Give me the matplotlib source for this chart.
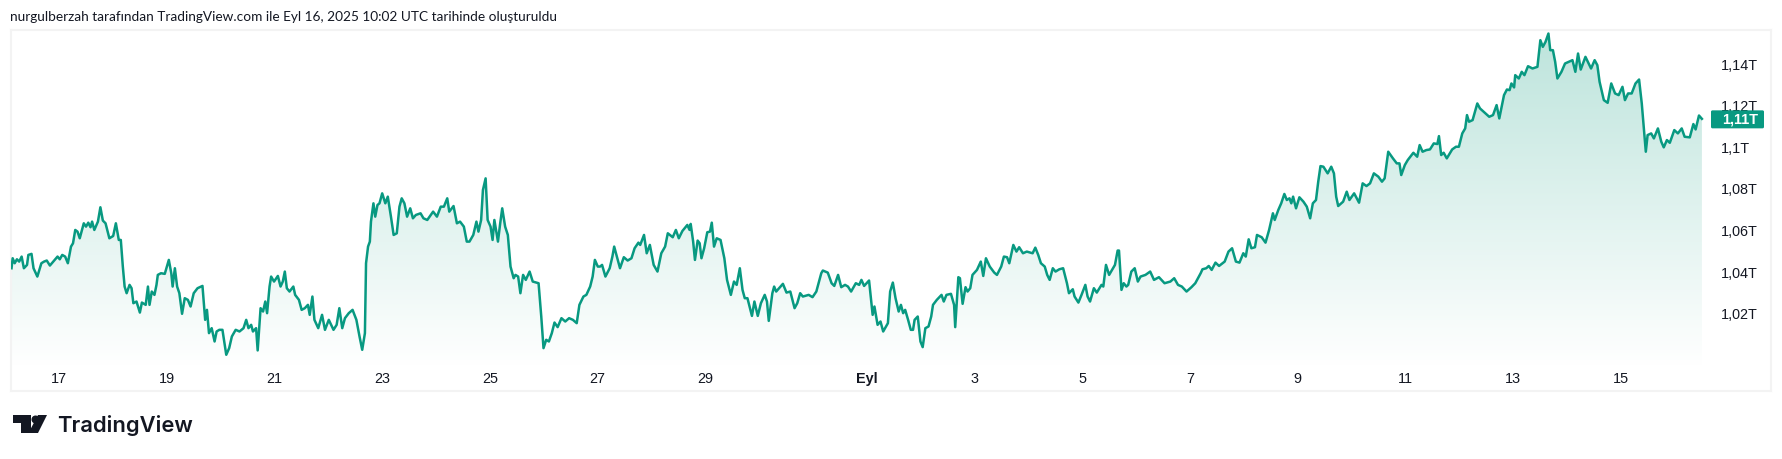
import numpy as np
import matplotlib
matplotlib.use("Agg")
import matplotlib.pyplot as plt
from matplotlib.patches import Rectangle, Polygon, Circle, FancyBboxPatch
from matplotlib.colors import LinearSegmentedColormap

plt.rcParams['font.family'] = ['Lato', 'DejaVu Sans']

# hours since Aug 16 00:00, market cap in billions (1000 = 1T)
hours_a = [2.8,3.3,4.2,5.2,6.2,7.3,8.3,9.7,10.3,11.7,12.6,14.3,16.1,17.3,18.5,19.9,22,23.3,24.3,25.4,26.7,27.9,29.3,30.2,31.2,32.2,33.2,35,36,37,38,38.7,39.7,41.3,42.4,43.5,44.7,46.4,48.1,49.3,50.6,51.5,52.4,53.2,54.1,55.4,56.3,57.1,58.5,60,60.9,62.6,63.6,64.3,65.3,66.5,67.4,68,69.4,71.1,72.9,74,74.6,75.6,76.6,77.6,78.8,80,81.4,82.6,84,85.7,87.9,89.1,89.9,90.8,92,93.3,94.2,95.4,96.8,98.5,99.8,101,102.7,104.4,106.2,107.4,108.4,109.6,110.4,111.8,112.5,113.8,114.9,115.9,116.7,117.8,118.5,119.8,121.5,122.7,123.7,124.6,125.5,126.7,128.4,129.2,130.9,132.1,133.5,134.9,135.7,136.9,137.8,139.5,141.2,142.5,144.2,146.3,147.7,148.9,150.2,151.4,153.1,154.8,156.5,157.9,159.1,160.3,160.8,161.7,162.5,163,164.1,164.9,165.9,166.8,168,169.4,170.5,171.9,173.1,174.5,175.7,176.7,177.9,179.1,180.5,181.7,183,185.1,186.4,188.1,190.7,192.4,194.1,195.5,197,197.9,199.8,201.3,202.7,204.4,205.7,206.9,208.6,210,210.9,212.1,212.9,214.1,215,216.3,217.2,218,219.6,220.6,221.5,222.8,224,225.2,226.6,227.4,228.6,229.6,230.8,232,233.7,235.1,237.7,238.9,239.9,241.1,242.3,243.6,244.8,246.2,247.9,249.6,251.3,253,254.7,255.9,257.7,259,260.7,261.8,262.8,264.1]
values_a = [1041.9,1046.7,1044.3,1046.2,1045.1,1047.5,1041.9,1043.5,1048.3,1048.8,1041.9,1037.9,1044.3,1045.1,1045.6,1043.2,1045.9,1047.5,1046.2,1048.3,1047.5,1044.3,1052.3,1053.9,1060.3,1059.5,1056.3,1063.5,1061.9,1063.8,1061.6,1064.3,1060.3,1064.3,1071.2,1064.8,1063.5,1056.3,1057.4,1063.5,1055.5,1055.5,1042.7,1033.1,1029.9,1033.9,1032.3,1025.1,1025.9,1020.6,1025.4,1024.3,1033.1,1024.3,1030.7,1029.1,1033.9,1038.7,1039.5,1039.2,1045.9,1039.5,1033.1,1041.9,1033.1,1029.9,1020,1027.5,1026.7,1023.5,1029.9,1032.3,1033.4,1017.1,1021.9,1010.7,1013.1,1006.7,1011.5,1012.3,1012.3,1000.3,1003.5,1009.1,1012.3,1011.5,1013.1,1017.1,1013.1,1014.7,1011.5,1013.1,1002.4,1022.7,1021.1,1025.9,1020.3,1033.1,1037.9,1035.5,1038.2,1033.1,1035.5,1040.3,1032.3,1030.7,1033.1,1029.1,1026.7,1021.9,1022.7,1024.3,1019.5,1028.3,1017.1,1013.1,1019.5,1012.3,1017.1,1012.3,1014.7,1022.7,1013.1,1017.9,1020.3,1021.9,1017.1,1009.1,1002.7,1010.7,1044.3,1052.3,1054.7,1064.3,1073.1,1066.7,1072.3,1073.1,1077.9,1073.1,1076.3,1066.7,1057.9,1058.7,1071.5,1075.5,1073.1,1066.7,1070.7,1065.9,1067.5,1068.3,1065.9,1065.1,1069.1,1066.7,1071.5,1071.5,1075.5,1069.1,1071.8,1063.5,1064.3,1061.9,1054.7,1054.7,1057.9,1064.3,1059.5,1065.1,1079.5,1085.1,1065.1,1061.9,1055.5,1065.1,1054.7,1063.5,1070.7,1061.9,1057.9,1042.7,1037.1,1038.7,1037.9,1029.9,1038.7,1036.3,1040.3,1035.5,1034.7,1018.7,1003.5,1007.5,1006.7,1010.7,1015.8,1013.6,1017.9,1016.3,1017.9,1017.1,1015.5,1024.3,1028.3,1029.1,1033.1,1037.9,1045.9,1042.7]

hours_b = [265.1,266,267.5,269.4,270.6,271.4,272.8,274,275.7,277.4,279.1,280.5,282.2,283,284.7,285.9,287.3,289,290.7,292.4,294.1,295.3,297.5,298.9,300.2,301.8,304,305,305.5,306.6,307.4,308.6,309.5,310.3,311.5,312.9,314.1,314.9,315.9,317.1,318.8,320.5,321.7,323.4,324.8,326,327.4,328.6,329.6,330.8,332.8,333.9,335.4,336.8,338.5,339.5,340.3,341.9,342.7,343.6,346.6,348.2,349.9,351.8,353,354.3,355.5,358.1,359.8,361.5,363.7,364.4,366.6,368.3,369.5,371.2,372.6,374.3,375.6,377,379.1,380.6,381.6,382.8,385,386.6,387.4,388.8,390.1,391.3,393.4,394.4,395.6,396.8,398.2,399.2,400.2,401.1,402.4,403.6,404.6,405.3,406.7,407.9,408.9,410.1,411.5,412.7,413.5,415.2,417.3,418.3,419.5,421.5,422.9,423.4,424.8,425.5,426.7,428,428.9,430.1,431.1,433.1,434.8,435.9,437.1,438.8,440.8,442,443.9,445.1,446.5,447.5,449.3,450.7,451.9,453.6,455.3,457.9,459.1,460.4,461.6,463.3,464.4,465.5,466.9,468.1,469.8,471.5,473.2,474.1,475.8,476.6,478.3,479.7,481.4,482.4,483.5,485.2,486.5,488.6,489.4,490.6,492,493.7,494.6,495.8,496.4,497.5,498.5,499.7,500.5,501.9,503.4,504.8,506,508.2,510.3,512,514.2,516.7,519.3,521,522.7,524.4,526.5,528.7,530.4]
values_b = [1042.7,1043.5,1037.9,1041.9,1047.5,1052.3,1046.7,1041.9,1047.2,1045.6,1046.7,1051.5,1054.2,1053.1,1057.9,1049.1,1053.1,1043.5,1040.3,1049.1,1052.3,1058.7,1056.8,1060.3,1056.3,1059.8,1062.7,1060.3,1063.2,1054.7,1045.9,1055.2,1053.9,1046.7,1051.5,1059.2,1059.5,1063.8,1052.3,1056.3,1055.5,1046.7,1036.3,1029.1,1035.5,1033.9,1041.9,1031.5,1027.5,1027.5,1019,1025.9,1019,1025.1,1029.1,1025.9,1016.6,1029.9,1033.1,1030.7,1034.4,1030.2,1030.7,1022.7,1025.1,1029.9,1028.3,1029.1,1028,1030.7,1039.5,1040.8,1039.8,1034.7,1033.4,1038.7,1032.8,1033.9,1033.1,1030.7,1034.7,1033.9,1036.3,1033.4,1036,1019.5,1023.5,1014.7,1016.3,1011.5,1015.5,1030.7,1035,1027.5,1021.1,1024.3,1020.3,1021.9,1017.1,1012.3,1012.3,1017.1,1018.7,1006.7,1004,1013.1,1013.9,1018.7,1024.3,1026.7,1029.1,1025.9,1029.1,1029.6,1024.3,1013.6,1037.6,1037.1,1024.8,1032.8,1030.7,1032.3,1038.7,1041.1,1045.1,1038.2,1046.7,1042.7,1039.8,1038.7,1042.7,1047.5,1047.2,1044.3,1053.1,1049.9,1052,1049.1,1049.9,1049.1,1051.8,1048.3,1044.3,1042.7,1038.7,1036.3,1041.9,1040.3,1041.4,1041.9,1034.7,1029.9,1031.8,1028.3,1025.4,1029.1,1033.9,1028.3,1025.9,1032.3,1030.2,1033.9,1033.1,1043.5,1038.7,1041.9,1043.5,1050.4,1050.4,1031.5,1034.7,1033.1,1033.9,1040.3,1041.9,1035.5,1037.9,1038.7,1040.3,1036.3,1037.6,1034.7,1035.5,1037.1,1033.9,1033.1,1030.7,1032.8,1034.7]

hours_c = [532.8,533.6,535.3,536.4,537.7,539.4,541,543.5,545.2,546.8,548.5,550.1,551.8,552.9,554.2,555.4,557,557.9,560,561.7,563.3,565,565.8,567.4,568.7,570.1,571.2,572.4,573.2,574,575.3,576.8,578.6,580.1,581.6,582.8,584.2,585.2,586.2,587.5,589.4,591,592.2,593.2,594.1,596.3,597.9,599.1,601.2,603.4,605,606.7,608.3,610,612,613.6,614.8,616.4,618.5,620.2,621.4,622.2,623.8,625.1,627.6,629.3,630.4,631.7,633.4,635,636.7,638.3,639,640,641.1,642.5,644.9,646.6,647.9,649.4,650.7,651.5,652.4,654,656.1,657.3,659.8,661.4,663.1,664.7,665.9,668,669.3,670.5,671.3,672.5,673,674.6,675.9,677.1,678.7,680.7,682.9,684.2,685.3,686.5,687.8,688.6,689.8,690.8,691.8,693.6,695.2,696.9,698.5,699.8,701,702.2,704.3,706.8,708.4,709.6,710.6,712.5,714.2,715.8,717.5,719.1,720.8,721.9,723.3,724.9,726.6,728.2,729.4,731.2,732,733.6,734.8,736.6,738.1,739.2,740.6,741.9,743.9,745.5,747.2,748.5,750.8,752.4,753.4,754.9,756.2]
values_c = [1039.5,1041.4,1041.9,1043,1041.1,1044.6,1043,1045.1,1049.9,1051.5,1045.1,1044.6,1049.1,1047.5,1055.8,1051.5,1052,1057.9,1056.8,1054.2,1060.3,1068.3,1065.1,1069.9,1073.1,1077.6,1074.7,1075.5,1073.1,1076.3,1070.7,1076,1073.9,1071.5,1065.9,1073.1,1074.7,1083.5,1091,1090.7,1087.5,1090.7,1087.5,1076.3,1071.8,1073.9,1078.7,1074.7,1077.9,1073.4,1082.7,1081.4,1082.7,1087.5,1085.9,1083.5,1085.1,1097.9,1094.7,1092.3,1092.3,1086.7,1091.5,1093.9,1097.4,1095.5,1101.1,1097.9,1098.7,1099,1101.9,1101.6,1105.4,1096.3,1097.4,1094.7,1099,1100.3,1100.3,1106.7,1109.1,1115.5,1112.3,1113.1,1121.1,1118.7,1116.3,1114.7,1115.5,1120.3,1113.9,1125.1,1127.8,1127.5,1130.7,1128.8,1134.7,1133.1,1136.3,1134.7,1139,1137.9,1138.7,1151.5,1148.3,1150.7,1154.7,1146.7,1146.7,1141.1,1133.1,1136.3,1140.3,1141.1,1141.9,1136.3,1145.1,1137.4,1143.5,1137.9,1141.9,1139.5,1131.5,1122.7,1121.4,1130.7,1125.9,1125.1,1129.1,1122.7,1125.9,1125.9,1130.7,1132.6,1121.1,1097.9,1105.9,1106.7,1104.3,1109.1,1102.7,1100,1103.5,1102.2,1108.3,1106.7,1109.1,1105.1,1104.8,1111.2,1108.6,1115.3,1113.7]

tick_hours = [24,72,120,168,216,264,312,384,432,480,528,576,624,672,720]
tick_labels = ['17','19','21','23','25','27','29','Eyl','3','5','7','9','11','13','15']
price_ticks = [1020,1040,1060,1080,1100,1120,1140]
price_labels = ['1,02T','1,04T','1,06T','1,08T','1,1T','1,12T','1,14T']
last_label = '1,11T'
header = 'nurgulberzah tarafından TradingView.com ile Eyl 16, 2025 10:02 UTC tarihinde oluşturuldu'
brand = 'TradingView'

GREEN = '#089981'
AXIS_FONT = ['Liberation Sans', 'DejaVu Sans']
W, H = 1782, 459
hours = np.array(hours_a + hours_b + hours_c)
values = np.array(values_a + values_b + values_c)

fig = plt.figure(figsize=(W/100, H/100), dpi=100, facecolor='white')

L, T, R, B = 11, 30, 1771, 391
ax = fig.add_axes([L/W, 1-B/H, (R-L)/W, (B-T)/H])
for s in ax.spines.values():
    s.set_color('#F3F3F3')
    s.set_linewidth(1.5)

cmap = LinearSegmentedColormap.from_list('fade', ['#FFFFFF', '#BDE4DC'])
grad = np.linspace(1, 0, 256).reshape(-1, 1)
top_v, bot_v = values.max(), 995
im = ax.imshow(grad, cmap=cmap, aspect='auto', vmin=0, vmax=1, zorder=1,
               extent=[hours[0], hours[-1], bot_v, top_v], interpolation='bilinear')
clip = Polygon(np.vstack([[hours[0], bot_v], np.c_[hours, values], [hours[-1], bot_v]]),
               closed=True, transform=ax.transData, fc='none', ec='none')
ax.add_patch(clip)
im.set_clip_path(clip)
ax.set_xlim(2.56, 787)
ax.set_ylim(982.9, 1156.4)

ax.plot(hours, values, color=GREEN, lw=1.8, zorder=3, solid_joinstyle='round')

TC = '#131722'
ax.set_xticks(tick_hours)
ax.set_xticklabels(tick_labels, fontsize=10.4, color=TC, fontfamily=AXIS_FONT)
ax.tick_params(axis='x', length=0, direction='in', pad=-14)
for lab in ax.get_xticklabels():
    if lab.get_text() == 'Eyl':
        lab.set_fontweight('bold')
ax.yaxis.tick_right()
ax.set_yticks(price_ticks)
ax.set_yticklabels(price_labels, fontsize=10.4, color=TC, fontfamily=AXIS_FONT)
ax.tick_params(axis='y', length=0, direction='in', pad=-36)

ov = fig.add_axes([0, 0, 1, 1], facecolor='none')
ov.set_xlim(0, W)
ov.set_ylim(H, 0)
ov.axis('off')

fig.canvas.draw()
last_y = H - ax.transData.transform((hours[-1], values[-1]))[1]
ov.add_patch(FancyBboxPatch((1711, last_y-8.5), 53, 18, boxstyle='round,pad=0,rounding_size=1.5', fc=GREEN, ec='none'))
ov.text(1722, last_y+0.5, last_label, color='white', fontsize=10.4, fontweight='bold', fontfamily=AXIS_FONT, va='center', ha='left')

ov.text(10, 17, header, fontsize=9.8, color='#131722', va='center', ha='left')

# brand mark
k = '#131722'
ov.add_patch(Polygon([(13, 415), (31, 415), (31, 433), (21, 433), (21, 423), (13, 423)], fc=k, ec='none'))
ov.add_patch(Circle((35.5, 419.5), 4, fc=k, ec='none'))
ov.add_patch(Polygon([(38, 415), (47, 415), (38, 433), (28.5, 433)], fc=k, ec='none'))
ov.text(57, 425, brand, fontsize=15.8, color=k, fontfamily=['Inter', 'DejaVu Sans'], fontweight='semibold', va='center', ha='left')

fig.savefig('out.png', dpi=100, facecolor='white')
